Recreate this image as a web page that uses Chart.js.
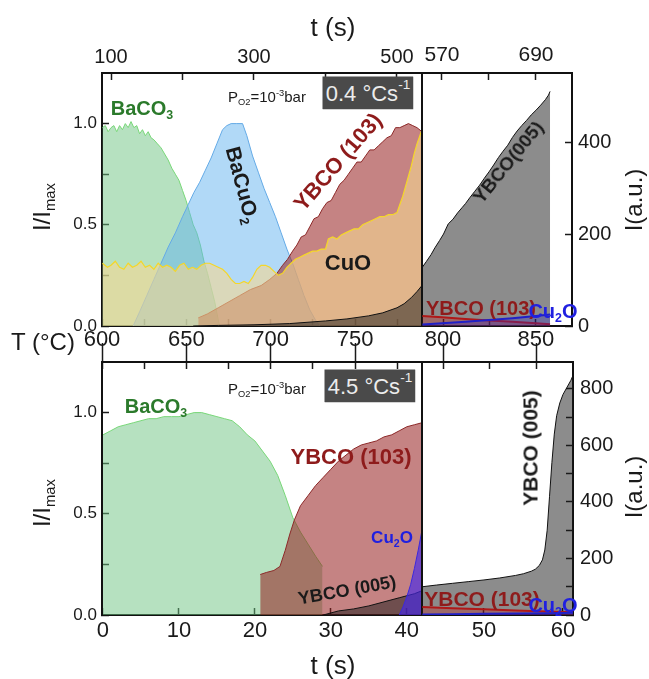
<!DOCTYPE html>
<html>
<head>
<meta charset="utf-8">
<title>In-situ XRD: phase evolution at 0.4 and 4.5 °C/s</title>
<script src="https://cdn.jsdelivr.net/npm/chart.js@4.4.1/dist/chart.umd.min.js"></script>
<style>
  body { margin: 0; background: #fff; }
  #fig { position: relative; width: 649px; height: 679px; overflow: hidden;
         font-family: "Liberation Sans", Arial, Helvetica, sans-serif; color: #1a1a1a; }
  #fig canvas { position: absolute; left: 0; top: 0; }
  .lbl { position: absolute; white-space: nowrap; line-height: 1; transform: translate(-50%, -50%); }
  .b { font-weight: bold; }
  .green { color: #2b7a2b; }
  .red { color: #8e1b1b; }
  .blue { color: #2020e0; }
  .rate { background: #4a4a4a; color: #ececec; width: 91px; height: 33px; font-size: 22px;
          display: flex; align-items: center; justify-content: center; }
  sub, sup { font-size: 0.62em; line-height: 0; position: relative; vertical-align: baseline; }
  sub { top: 0.35em; }
  sup { top: -0.6em; }
</style>
</head>
<body>
<div id="fig">
  <canvas id="slowMain" width="649" height="679"></canvas>
  <canvas id="slowLate" width="649" height="679"></canvas>
  <canvas id="fastMain" width="649" height="679"></canvas>
  <canvas id="fastLate" width="649" height="679"></canvas>

  <!-- axis titles -->
  <div class="lbl" style="left:333px;top:27px;font-size:26px">t (s)</div>
  <div class="lbl" style="left:333px;top:665px;font-size:26px">t (s)</div>
  <div class="lbl" style="left:43px;top:342px;font-size:24px">T (°C)</div>
  <div class="lbl" style="left:42px;top:207px;font-size:24px;transform:translate(-50%,-50%) rotate(-90deg)">I/I<sub>max</sub></div>
  <div class="lbl" style="left:42px;top:503px;font-size:24px;transform:translate(-50%,-50%) rotate(-90deg)">I/I<sub>max</sub></div>
  <div class="lbl" style="left:634px;top:200px;font-size:24px;transform:translate(-50%,-50%) rotate(-90deg)">I(a.u.)</div>
  <div class="lbl" style="left:634px;top:487px;font-size:24px;transform:translate(-50%,-50%) rotate(-90deg)">I(a.u.)</div>

  <!-- 0.4 °C/s panel -->
  <div class="lbl b green" style="left:142px;top:108px;font-size:20px">BaCO<sub>3</sub></div>
  <div class="lbl" style="left:267px;top:96px;font-size:15px">P<sub>O2</sub>=10<sup>-3</sup>bar</div>
  <div class="lbl rate" style="left:368px;top:93px">0.4 °Cs<sup>-1</sup></div>
  <div class="lbl b" style="left:243px;top:185px;font-size:21px;transform:translate(-50%,-50%) rotate(75deg)">BaCuO<sub>2</sub></div>
  <div class="lbl b red" style="left:338px;top:162px;font-size:22px;transform:translate(-50%,-50%) rotate(-49deg)">YBCO (103)</div>
  <div class="lbl b" style="left:348px;top:263px;font-size:22px">CuO</div>
  <div class="lbl b" style="left:508px;top:162px;font-size:19px;transform:translate(-50%,-50%) rotate(-51deg)">YBCO(005)</div>
  <div class="lbl b red" style="left:481px;top:308px;font-size:20px">YBCO (103)</div>
  <div class="lbl b blue" style="left:553px;top:311px;font-size:20px">Cu<sub>2</sub>O</div>

  <!-- 4.5 °C/s panel -->
  <div class="lbl" style="left:267px;top:388px;font-size:15px">P<sub>O2</sub>=10<sup>-3</sup>bar</div>
  <div class="lbl rate" style="left:370px;top:386px">4.5 °Cs<sup>-1</sup></div>
  <div class="lbl b green" style="left:156px;top:406px;font-size:20px">BaCO<sub>3</sub></div>
  <div class="lbl b red" style="left:351px;top:457px;font-size:22px">YBCO (103)</div>
  <div class="lbl b blue" style="left:392px;top:537px;font-size:17px">Cu<sub>2</sub>O</div>
  <div class="lbl b" style="left:347px;top:590px;font-size:18px;transform:translate(-50%,-50%) rotate(-10deg)">YBCO (005)</div>
  <div class="lbl b" style="left:530px;top:448px;font-size:21px;transform:translate(-50%,-50%) rotate(-90deg)">YBCO (005)</div>
  <div class="lbl b red" style="left:482px;top:598px;font-size:21px">YBCO (103)</div>
  <div class="lbl b blue" style="left:553px;top:605px;font-size:20px">Cu<sub>2</sub>O</div>
</div>

<script>
// ---- 0.4 °C/s heating, normalised intensities vs time (s) ----
const baco3SlowT = [88, 92, 96, 100, 104, 108, 112, 116, 120, 124, 128, 132, 136, 140, 144, 148, 152, 156, 160, 165, 170, 175, 180, 185, 190, 195, 200, 205, 210, 215, 220, 225, 230, 235, 240, 245, 250, 252];
const baco3Slow = [0.98, 0.99, 0.96, 0.98, 0.99, 0.96, 0.99, 0.97, 1.0, 0.98, 1.01, 0.98, 0.99, 0.95, 0.97, 0.94, 0.96, 0.93, 0.92, 0.90, 0.88, 0.85, 0.82, 0.78, 0.75, 0.72, 0.67, 0.62, 0.56, 0.50, 0.46, 0.40, 0.32, 0.26, 0.19, 0.12, 0.03, 0.0];

const bacuo2SlowT = [131, 140, 150, 160, 170, 180, 190, 200, 208, 216, 224, 232, 240, 248, 256, 262, 268, 276, 284, 290, 298, 306, 314, 322, 330, 338, 346, 354, 362, 370, 378, 386, 392];
const bacuo2Slow = [0, 0.07, 0.15, 0.23, 0.31, 0.39, 0.46, 0.54, 0.60, 0.66, 0.71, 0.77, 0.83, 0.90, 0.97, 0.99, 1.0, 1.0, 1.0, 0.94, 0.84, 0.76, 0.68, 0.61, 0.54, 0.46, 0.38, 0.31, 0.23, 0.15, 0.08, 0.03, 0.0];

const ybco103SlowT = [222, 235, 250, 265, 280, 295, 310, 322, 332, 340, 347, 354, 360, 366, 372, 378, 384, 390, 396, 402, 408, 414, 420, 426, 432, 438, 444, 450, 456, 462, 468, 474, 480, 486, 492, 498, 504, 510, 516, 522, 528, 535];
const ybco103Slow = [0.04, 0.06, 0.09, 0.12, 0.15, 0.18, 0.20, 0.23, 0.26, 0.30, 0.33, 0.37, 0.40, 0.44, 0.45, 0.49, 0.53, 0.54, 0.58, 0.61, 0.62, 0.66, 0.70, 0.72, 0.75, 0.78, 0.81, 0.81, 0.84, 0.87, 0.87, 0.89, 0.91, 0.93, 0.94, 0.98, 0.98, 0.99, 1.0, 0.99, 0.98, 0.96];

const cuoSlowT = [88, 95, 100, 106, 112, 118, 124, 130, 136, 142, 148, 154, 160, 166, 172, 178, 184, 190, 196, 202, 208, 214, 220, 226, 232, 238, 244, 250, 256, 262, 268, 274, 280, 286, 292, 298, 304, 310, 316, 322, 328, 334, 340, 346, 352, 358, 364, 370, 376, 382, 388, 394, 400, 404, 410, 416, 422, 428, 434, 440, 446, 452, 458, 464, 470, 476, 482, 488, 494, 500, 504, 508, 512, 516, 520, 524, 528, 532, 535];
const cuoSlow = [0.31, 0.29, 0.30, 0.32, 0.29, 0.28, 0.31, 0.29, 0.30, 0.32, 0.29, 0.30, 0.28, 0.31, 0.29, 0.30, 0.29, 0.27, 0.30, 0.31, 0.28, 0.29, 0.28, 0.30, 0.31, 0.31, 0.30, 0.29, 0.28, 0.26, 0.23, 0.21, 0.21, 0.22, 0.21, 0.24, 0.28, 0.30, 0.30, 0.29, 0.27, 0.25, 0.26, 0.29, 0.31, 0.33, 0.34, 0.35, 0.36, 0.37, 0.37, 0.38, 0.38, 0.43, 0.44, 0.43, 0.45, 0.46, 0.47, 0.48, 0.48, 0.50, 0.51, 0.52, 0.53, 0.54, 0.54, 0.55, 0.55, 0.56, 0.60, 0.64, 0.69, 0.74, 0.79, 0.85, 0.90, 0.94, 0.97];

const ybco005SlowT = [215, 250, 300, 350, 400, 430, 460, 480, 500, 510, 520, 528, 535];
const ybco005Slow = [0, 0.003, 0.006, 0.012, 0.025, 0.035, 0.05, 0.065, 0.09, 0.11, 0.14, 0.17, 0.2];

// ---- 0.4 °C/s, late stage, raw intensity (a.u.) ----
const ybco005LateT = [545, 550, 556, 561, 567, 572, 578, 584, 590, 596, 600, 606, 612, 618, 624, 630, 636, 642, 648, 654, 660, 666, 672, 678, 684, 690, 696, 702, 706, 708];
const ybco005Late = [128, 140, 155, 170, 186, 200, 222, 232, 246, 258, 266, 280, 293, 306, 321, 335, 350, 366, 380, 393, 410, 424, 436, 447, 459, 469, 480, 492, 502, 510];
const minorLateT = [545, 570, 600, 630, 660, 690, 708];
const ybco103Late = [22, 19, 15, 12, 9, 6, 4];
const cu2oLate = [3, 6, 9, 13, 17, 22, 25];

// ---- 4.5 °C/s heating, normalised intensities vs time (s) ----
const baco3FastT = [0, 1, 2, 3, 4, 5, 6, 7, 8, 9, 10, 11, 12, 13, 14, 15, 16, 17, 18, 19, 20, 21, 22, 23, 24, 25, 26, 27, 28, 28.9];
const baco3Fast = [0.89, 0.91, 0.93, 0.94, 0.95, 0.96, 0.97, 0.97, 0.98, 0.98, 0.98, 0.99, 1.0, 1.0, 0.99, 0.98, 0.97, 0.96, 0.93, 0.89, 0.86, 0.81, 0.76, 0.69, 0.59, 0.48, 0.41, 0.35, 0.29, 0.24];

const ybco103FastT = [20.7, 21.5, 22.5, 23.3, 24, 24.6, 25.2, 26, 27, 28, 29, 30, 31, 32, 33, 34, 35, 36, 37, 38, 39, 40, 41, 42];
const ybco103Fast = [0.20, 0.21, 0.22, 0.24, 0.32, 0.40, 0.47, 0.54, 0.59, 0.64, 0.68, 0.72, 0.76, 0.79, 0.82, 0.84, 0.85, 0.86, 0.88, 0.89, 0.91, 0.93, 0.94, 0.95];

const ybco005FastT = [29, 31, 33, 35, 37, 39, 41, 42];
const ybco005Fast = [0, 0.02, 0.03, 0.045, 0.065, 0.085, 0.105, 0.12];

const cu2oFastT = [39, 39.5, 40, 40.5, 41, 41.5, 42];
const cu2oFast = [0, 0.04, 0.09, 0.15, 0.23, 0.32, 0.42];

// ---- 4.5 °C/s, late stage, raw intensity (a.u.) ----
const ybco005FastLateT = [42.2, 44, 46, 48, 50, 52, 54, 55, 56, 56.5, 57, 57.4, 57.7, 58, 58.3, 58.6, 58.9, 59.2, 59.6, 60, 60.5, 61, 61.3];
const ybco005FastLate = [100, 106, 112, 118, 124, 131, 140, 146, 155, 162, 175, 195, 230, 300, 420, 540, 640, 705, 750, 780, 805, 830, 850];
const minorFastLateT = [42.2, 46, 50, 54, 58, 61.3];
const ybco103FastLate = [28, 24, 20, 16, 12, 10];
const cu2oFastLate = [2, 3, 4, 5, 6, 8];

// tick positions
const normTicks = [0, 0.25, 0.5, 0.75, 1.0];
const tempTicksMain = [600, 625, 650, 675, 700, 725, 750, 775];
const tempMajorMain = [600, 650, 700, 750];
const tempTicksLate = [800, 825, 850];
const tempMajorLate = [800, 850];
const timeTicksSlow = [100, 200, 300, 400, 500];
const timeLabelsSlow = [100, 300, 500];
const timeTicksSlowLate = [570, 630, 690];
const timeLabelsSlowLate = [570, 690];
const timeTicksFast = [0, 10, 20, 30, 40];
const timeTicksFastLate = [50, 60];
const countTicksSlow = [0, 200, 400];
const countTicksFast = [0, 100, 200, 300, 400, 500, 600, 700, 800];

Chart.defaults.font.family = '"Liberation Sans", Arial, Helvetica, sans-serif';
Chart.defaults.color = '#1a1a1a';

function points(ts, vs) {
  return ts.map((t, i) => ({ x: t, y: vs[i] }));
}

function area(data, fill, line, order, width) {
  return {
    data, order, xAxisID: 'x', yAxisID: 'y',
    backgroundColor: fill, borderColor: line, borderWidth: width || 1,
    fill: 'origin', pointRadius: 0, tension: 0
  };
}

// every axis box gets a fixed size, so the plot area lands exactly on padding + box;
// tick marks point inward (negative length), labels are pushed out with padding
function axis(axisName, position, min, max, tickValues, label, fontSize, pad, box, tickLen, extra) {
  return Object.assign({
    type: 'linear', axis: axisName, position, min, max,
    afterBuildTicks: s => { s.ticks = tickValues.map(v => ({ value: v })); },
    afterFit: s => { if (s.isHorizontal()) s.height = box || 0; else s.width = box || 0; },
    ticks: {
      display: !!label, autoSkip: false, maxRotation: 0, minRotation: 0,
      padding: pad || 0, font: { size: fontSize || 20 },
      callback: v => (label ? label(v) : '')
    },
    grid: { drawOnChartArea: false, tickLength: tickLen === undefined ? -7 : tickLen, tickWidth: 1.5, tickColor: '#1a1a1a' },
    border: { display: true, color: '#111', width: 2 }
  }, extra || {});
}

function frame(axisName, position) {
  return {
    type: 'linear', axis: axisName, position, min: 0, max: 1,
    afterFit: s => { if (s.isHorizontal()) s.height = 0; else s.width = 0; },
    ticks: { display: false }, grid: { display: false },
    border: { display: true, color: '#111', width: 2 }
  };
}

const pick = list => v => (list.includes(v) ? String(v) : '');
const oneDecimal = v => ([0, 0.5, 1].includes(v) ? v.toFixed(1) : '');

function makeChart(id, padding, datasets, scales) {
  return new Chart(document.getElementById(id), {
    type: 'line',
    data: { datasets },
    options: {
      responsive: false, animation: false, devicePixelRatio: 1,
      layout: { padding, autoPadding: false },
      plugins: { legend: { display: false }, tooltip: { enabled: false } },
      scales
    }
  });
}

const GREEN_FILL = 'rgba(110,195,130,0.5)', GREEN_LINE = 'rgb(120,215,120)';
const BLUE_FILL = 'rgba(100,180,240,0.5)', BLUE_LINE = 'rgb(100,170,230)';
const RED_FILL = 'rgba(150,30,30,0.55)', RED_LINE = 'rgb(140,40,40)';
const CUO_FILL = 'rgba(245,215,145,0.6)', CUO_LINE = 'rgb(245,215,40)';
const GREY_FILL = 'rgba(25,25,25,0.5)', GREY_LINE = '#111';

// plot areas: top row y 73..326, bottom row y 362..615, split at x = 422
// 0.4 °C/s, first stage
makeChart('slowMain', { left: 42, top: 28, right: 227, bottom: 323 }, [
  area(points(ybco005SlowT, ybco005Slow), GREY_FILL, GREY_LINE, 1),
  area(points(cuoSlowT, cuoSlow), CUO_FILL, CUO_LINE, 2, 1.2),
  area(points(ybco103SlowT, ybco103Slow), RED_FILL, RED_LINE, 3),
  area(points(bacuo2SlowT, bacuo2Slow), BLUE_FILL, BLUE_LINE, 4),
  area(points(baco3SlowT, baco3Slow), GREEN_FILL, GREEN_LINE, 5)
], {
  x: axis('x', 'top', 87.4, 535, timeTicksSlow, pick(timeLabelsSlow), 20, 10.5, 45),
  xT: axis('x', 'bottom', 600, 789.7, tempTicksMain, pick(tempMajorMain), 22, 8, 30),
  y: axis('y', 'left', 0, 1.25, normTicks, oneDecimal, 17, 12, 60),
  yR: frame('y', 'right')
});

// 0.4 °C/s, late stage
makeChart('slowLate', { left: 422, top: 28, right: 17, bottom: 323 }, [
  area(points(minorLateT, cu2oLate), 'rgba(40,40,200,0.3)', '#2020c8', 1, 2),
  area(points(minorLateT, ybco103Late), 'rgba(190,40,40,0.35)', '#b01818', 2, 2),
  area(points(ybco005LateT, ybco005Late), GREY_FILL, GREY_LINE, 3)
], {
  x: axis('x', 'top', 544.5, 736, timeTicksSlowLate, pick(timeLabelsSlowLate), 21, 12.4, 45),
  xT: axis('x', 'bottom', 788.7, 869.4, tempTicksLate, pick(tempMajorLate), 22, 8, 30),
  y: axis('y', 'right', 0, 550, countTicksSlow, v => String(v), 20, 13, 60),
  yL: frame('y', 'left')
});

// 4.5 °C/s, first stage
makeChart('fastMain', { left: 42, top: 362, right: 227, bottom: 29 }, [
  area(points(cu2oFastT, cu2oFast), 'rgba(70,40,235,0.65)', 'rgb(60,40,220)', 1),
  area(points(ybco005FastT, ybco005Fast), GREY_FILL, GREY_LINE, 2),
  area(points(ybco103FastT, ybco103Fast), RED_FILL, RED_LINE, 3),
  area(points(baco3FastT, baco3Fast), GREEN_FILL, GREEN_LINE, 4)
], {
  x: axis('x', 'bottom', -0.13, 42, timeTicksFast, v => String(v), 22, 10, 35),
  xT: axis('x', 'top', 600, 789.7, tempTicksMain, null),
  xTm: axis('x', 'top', 600, 789.7, tempMajorMain, null, 20, 0, 0, 19, { border: { display: false } }),
  y: axis('y', 'left', 0, 1.25, normTicks, oneDecimal, 17, 12, 60),
  yR: frame('y', 'right')
});

// 4.5 °C/s, late stage
makeChart('fastLate', { left: 422, top: 362, right: 16, bottom: 29 }, [
  area(points(minorFastLateT, cu2oFastLate), 'rgba(40,40,200,0.3)', '#2020c8', 1, 2),
  area(points(minorFastLateT, ybco103FastLate), 'rgba(190,40,40,0.35)', '#b01818', 2, 2),
  area(points(ybco005FastLateT, ybco005FastLate), GREY_FILL, GREY_LINE, 3)
], {
  x: axis('x', 'bottom', 42.15, 61.27, timeTicksFastLate, v => String(v), 22, 10, 35),
  xT: axis('x', 'top', 788.7, 869.4, tempTicksLate, null),
  xTm: axis('x', 'top', 788.7, 869.4, tempMajorLate, null, 20, 0, 0, 19, { border: { display: false } }),
  y: axis('y', 'right', 0, 895, countTicksFast, v => (v % 200 === 0 ? String(v) : ''), 20, 14, 60),
  yL: frame('y', 'left')
});
</script>
</body>
</html>
